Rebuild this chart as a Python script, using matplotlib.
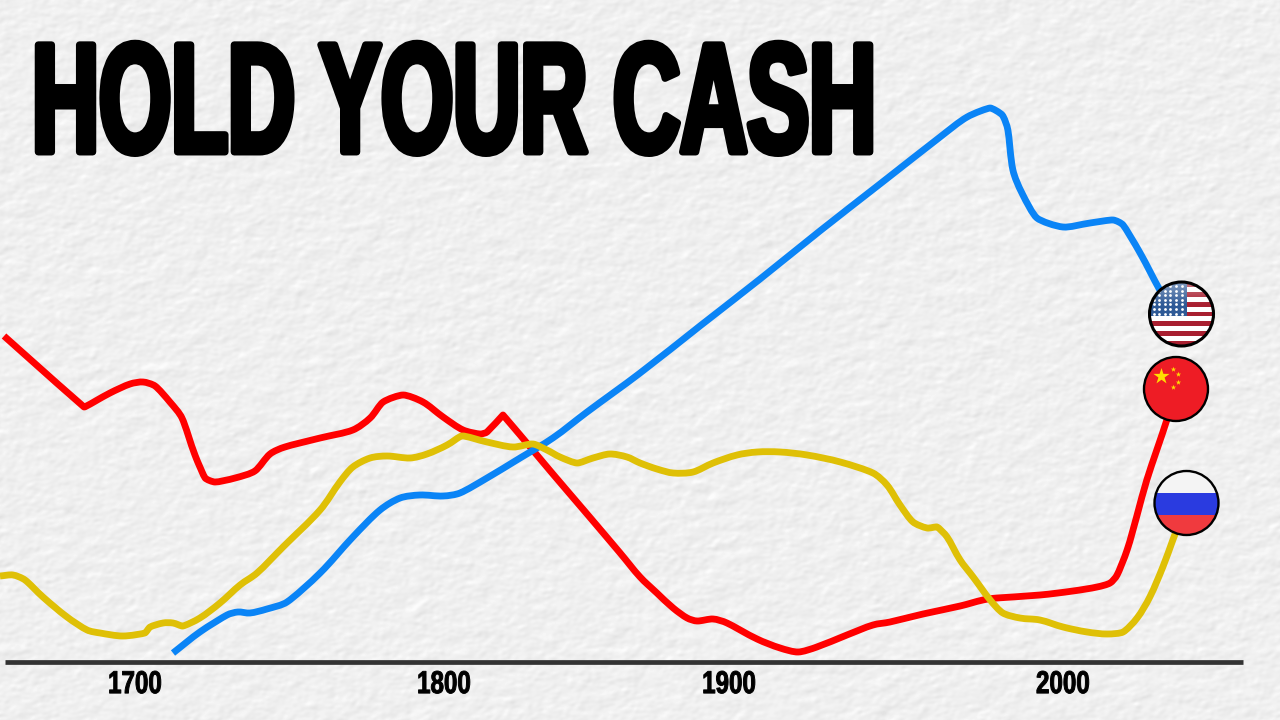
#!/usr/bin/env python3
"""Hold your cash: reserve currency share by country, 1650s to today."""

import numpy as np
import matplotlib
matplotlib.use("Agg")
import matplotlib.pyplot as plt
from matplotlib.patches import Circle, PathPatch, Rectangle
from matplotlib.path import Path
from matplotlib.patheffects import AbstractPathEffect
from matplotlib.transforms import Affine2D

# the axis of the original is not even, so years get mapped through these
axis_years = [1656.3, 1700, 1800, 1900, 2000, 2065.0]
axis_pos = [0, 135, 444, 729, 1063, 1280]
tick_years = [1700, 1800, 1900, 2000]
tick_labels = ["1700", "1800", "1900", "2000"]

red_years = [1657.6, 1683.5, 1691.9, 1698.4, 1702.6, 1706.5, 1711.3, 1715.2, 1719.4, 1722.7,
             1725.9, 1732.4, 1738.8, 1743.7, 1748.5, 1759.9, 1770.5, 1776.1, 1780.3, 1786.8,
             1793.2, 1799.7, 1806.7, 1812.6, 1815.1, 1820.7, 1826.7, 1838.2, 1850.2, 1861.8,
             1868.8, 1874.7, 1880.4, 1885.3, 1888.8, 1894.4, 1899.3, 1908.4, 1915.3, 1920.7,
             1926.3, 1935.3, 1943.1, 1948.2, 1958.1, 1969.2, 1976.0, 1980.2, 1993.1, 2003.0,
             2010.2, 2014.1, 2016.2, 2019.2, 2022.2, 2025.1, 2031.1, 2033.8]
red_vals = [326, 255, 269, 278, 280, 276, 260, 244, 207, 184,
            180, 184, 191, 208, 215, 224, 232, 244, 260, 267,
            260, 245, 232, 228, 230, 247, 227, 188, 148, 109,
            85, 69, 54, 44, 41, 43, 39, 23, 14, 10,
            15, 27, 37, 40, 48, 56, 62, 64, 67, 71,
            75, 79, 87, 112, 147, 182, 242, 274]

blue_years = [1712.3, 1721.0, 1729.8, 1733.3, 1737.2, 1742.7, 1749.2, 1759.9, 1770.5, 1779.3,
              1785.8, 1792.2, 1799.7, 1805.6, 1815.1, 1826.7, 1838.2, 1850.2, 1868.8, 1889.8,
              1909.3, 1927.2, 1945.2, 1963.2, 1971.3, 1978.2, 1981.8, 1983.5, 1985.0, 1987.7,
              1992.2, 2000.0, 2008.1, 2015.0, 2018.0, 2023.1, 2029.0, 2033.5]
blue_vals = [9, 30, 47, 50, 49, 53, 60, 89, 125, 152,
             164, 167, 166, 169, 184, 204, 224, 250, 289, 336,
             383, 431, 478, 525, 545, 554, 547, 532, 492, 469,
             444, 435, 439, 442, 437, 409, 372, 347]

gold_years = [1656.3, 1660.5, 1664.4, 1670.2, 1678.0, 1684.5, 1688.7, 1696.1, 1703.2, 1704.9,
              1709.1, 1712.3, 1715.5, 1721.0, 1727.5, 1734.0, 1739.5, 1747.9, 1759.9, 1766.3,
              1770.5, 1776.1, 1781.6, 1789.0, 1794.5, 1801.1, 1806.3, 1815.1, 1824.2, 1831.2,
              1836.1, 1840.7, 1846.7, 1852.3, 1858.2, 1864.2, 1868.8, 1874.7, 1880.4, 1887.4,
              1894.4, 1902.4, 1908.4, 1915.3, 1923.4, 1933.3, 1943.1, 1947.3, 1951.2, 1955.1,
              1959.3, 1962.3, 1965.3, 1969.2, 1973.1, 1978.2, 1982.0, 1987.1, 1993.1, 2000.0,
              2007.2, 2013.2, 2018.0, 2022.2, 2026.0, 2029.9, 2032.9, 2036.8]
gold_vals = [86, 87, 82, 65, 45, 32, 29, 26, 29, 35,
             39, 39, 36, 44, 59, 77, 89, 115, 152, 180,
             195, 204, 206, 204, 208, 217, 226, 220, 215, 218,
             212, 205, 199, 204, 208, 205, 199, 193, 189, 190,
             199, 207, 210, 210, 207, 200, 189, 177, 157, 140,
             134, 135, 125, 102, 85, 62, 49, 44, 42, 35,
             30, 28, 30, 44, 65, 95, 122, 157]

RED = "#ff0000"
BLUE = "#0a84f6"
GOLD = "#dfc006"
FONT = ["Liberation Sans", "DejaVu Sans"]


class Squeezed(AbstractPathEffect):
    """Squeezes glyphs sideways, stretches them up and fattens them: no condensed font here."""

    def __init__(self, kx, ky, lw, dx=0):
        super().__init__()
        self.kx = kx
        self.ky = ky
        self.lw = lw
        self.dx = dx

    def draw_path(self, renderer, gc, tpath, affine, rgbFace=None):
        gc0 = renderer.new_gc()
        gc0.copy_properties(gc)
        gc0.set_linewidth(self.lw)
        gc0.set_foreground("black")
        gc0.set_joinstyle("round")
        tr = Affine2D().scale(self.kx, self.ky) + affine + Affine2D().translate(self.dx, 0)
        renderer.draw_path(gc0, tpath, tr, rgbFace)
        gc0.restore()


def forward(x):
    return np.interp(x, axis_years, axis_pos)


def inverse(x):
    return np.interp(x, axis_pos, axis_years)


def paper(h, w):
    # blurred noise, lit from one side, for the paper grain
    rng = np.random.default_rng(4)
    fy = np.fft.fftfreq(h)[:, None]
    fx = np.fft.fftfreq(w)[None, :]
    out = np.zeros((h, w))
    for sx, sy, amp in [(2.2, 1.6, 1.0), (6.0, 3.5, 0.8)]:
        blur = np.exp(-2 * np.pi**2 * ((fx * sx)**2 + (fy * sy)**2))
        smooth = np.fft.ifft2(np.fft.fft2(rng.normal(size=(h, w))) * blur).real
        relief = np.roll(smooth, 1, axis=0) - np.roll(smooth, -1, axis=1)
        out += amp * relief / relief.std()
    return np.clip(239 + out * 2.6, 210, 252) / 255


def smooth_line(ax, xs, ys, color, lw=4.9):
    # bezier through the read points, same points as the lists, only drawn round
    p = ax.transData.transform(np.column_stack([xs, ys]))
    step = np.diff(p, axis=0)
    seg = np.hypot(step[:, 0], step[:, 1])
    unit = step / seg[:, None]
    d = np.zeros_like(p)
    d[1:-1] = p[2:] - p[:-2]
    d[0] = p[1] - p[0]
    d[-1] = p[-1] - p[-2]
    d = d / np.hypot(d[:, 0], d[:, 1])[:, None]
    # sharp turns in the line keep short handles so they stay corners
    bend = np.ones(len(p))
    bend[1:-1] = np.clip((unit[:-1] * unit[1:]).sum(axis=1), 0, 1) ** 2
    verts = [p[0]]
    codes = [Path.MOVETO]
    for i in range(len(p) - 1):
        left = seg[i] if i == 0 else min(seg[i], seg[i - 1] * 1.5)
        right = seg[i] if i == len(p) - 2 else min(seg[i], seg[i + 1] * 1.5)
        verts += [p[i] + d[i] * bend[i] * left / 3,
                  p[i + 1] - d[i + 1] * bend[i + 1] * right / 3, p[i + 1]]
        codes += [Path.CURVE4] * 3
    verts = ax.transData.inverted().transform(np.array(verts))
    ax.add_patch(PathPatch(Path(verts, codes), fc="none", ec=color, lw=lw, capstyle="butt",
                           joinstyle="round", transform=ax.transData))


def flag_axes(fig, cx, cy, r=32):
    W, H = fig.get_size_inches() * fig.dpi
    a = fig.add_axes([(cx - r - 2) / W, 1 - (cy + r + 2) / H, (2 * r + 4) / W, (2 * r + 4) / H],
                     zorder=2)
    a.set_xlim(-r - 2, r + 2)
    a.set_ylim(-r - 2, r + 2)
    a.axis("off")
    a.patch.set_alpha(0)
    return a, Circle((0, 0), r, transform=a.transData)


def finish_flag(a, r=32, gloss=0.0, edge=1.7):
    if gloss > 0:
        # light falling off from the top of the button
        shade = np.ones((64, 1, 4))
        shade[:, 0, 3] = np.clip(1 - np.arange(64) / 22, 0, 1) * gloss
        im = a.imshow(shade, extent=(-r, r, -r, r), aspect="auto", zorder=5)
        im.set_clip_path(Circle((0, 0), r, transform=a.transData))
        a.set_xlim(-r - 2, r + 2)
        a.set_ylim(-r - 2, r + 2)
    a.add_patch(Circle((0, 0), r, fc="none", ec="black", lw=edge, zorder=6))


fig = plt.figure(figsize=(12.8, 7.2), dpi=100)

bg = fig.add_axes([0, 0, 1, 1], zorder=0)
bg.imshow(paper(720, 1280), cmap="gray", vmin=0, vmax=1, aspect="auto")
bg.axis("off")

ax = fig.add_axes([0, 0, 1, 1], zorder=1)
ax.patch.set_alpha(0)
ax.set_xscale("function", functions=(forward, inverse))
ax.set_xlim(axis_years[0], axis_years[-1])
ax.set_ylim(-58, 662)

smooth_line(ax, red_years, red_vals, RED)
smooth_line(ax, blue_years, blue_vals, BLUE)
smooth_line(ax, gold_years, gold_vals, GOLD)

for side in ["top", "left", "right"]:
    ax.spines[side].set_visible(False)
ax.spines["bottom"].set_position(("data", 0))
ax.spines["bottom"].set_bounds(1657.9, 2053.9)
ax.spines["bottom"].set_linewidth(3.4)
ax.spines["bottom"].set_color("#333333")
ax.spines["bottom"].set_capstyle("butt")
ax.set_yticks([])
ax.set_xticks(tick_years)
ax.set_xticklabels(tick_labels, family=FONT, fontsize=20, fontweight="bold")
ax.minorticks_off()
ax.tick_params(axis="x", length=0, pad=8, direction="in")
for lab in ax.get_xticklabels():
    lab.set_path_effects([Squeezed(0.87, 1.14, 0.7, dx=4)])

ax.text(32 / 1280, 1 - 152 / 720, "HOLD YOUR CASH", transform=ax.transAxes, family=FONT,
        fontsize=79, fontweight="bold", color="black", ha="left", va="baseline",
        path_effects=[Squeezed(0.846, 1.42, 5)])

# flags sit on the line ends
us, clip = flag_axes(fig, 1181.5, 314)
for i in range(13):
    c = "#a81f30" if i % 2 == 0 else "white"
    y = 32 - (i + 1) * 64 / 13
    us.add_patch(Rectangle((-32, y), 64, 64 / 13, fc=c, ec="none", clip_path=clip))
us.add_patch(Rectangle((-32, 32 - 7 * 64 / 13), 37, 7 * 64 / 13, fc="#2f5a96", ec="none", clip_path=clip))
star_x = [-28 + 5.6 * i for i in range(6)]
star_y = [28 - 4.6 * j for j in range(7)]
us.scatter(np.repeat(star_x, 7), np.tile(star_y, 6), s=4, c="white", marker="o", lw=0, zorder=3,
           clip_path=clip)
finish_flag(us, gloss=0.4, edge=2.2)

cn, clip = flag_axes(fig, 1176, 389)
cn.add_patch(Rectangle((-32, -32), 64, 64, fc="#ee1c25", ec="none", clip_path=clip))
cn.scatter([-15], [13], s=150, c="#ffde00", marker="*", lw=0, zorder=3)
cn.scatter([-3, 2, 2, -3], [20, 15, 7, 2], s=16, c="#ffde00", marker="*", lw=0, zorder=3)
finish_flag(cn)

ru, clip = flag_axes(fig, 1186.5, 503)
ru.add_patch(Rectangle((-32, 10), 64, 22, fc="#f4f4f4", ec="none", clip_path=clip))
ru.add_patch(Rectangle((-32, -12), 64, 22, fc="#2a3be0", ec="none", clip_path=clip))
ru.add_patch(Rectangle((-32, -32), 64, 20, fc="#f03a3e", ec="none", clip_path=clip))
finish_flag(ru)

fig.savefig("out.png", dpi=100)
print("salvo em out.png")
